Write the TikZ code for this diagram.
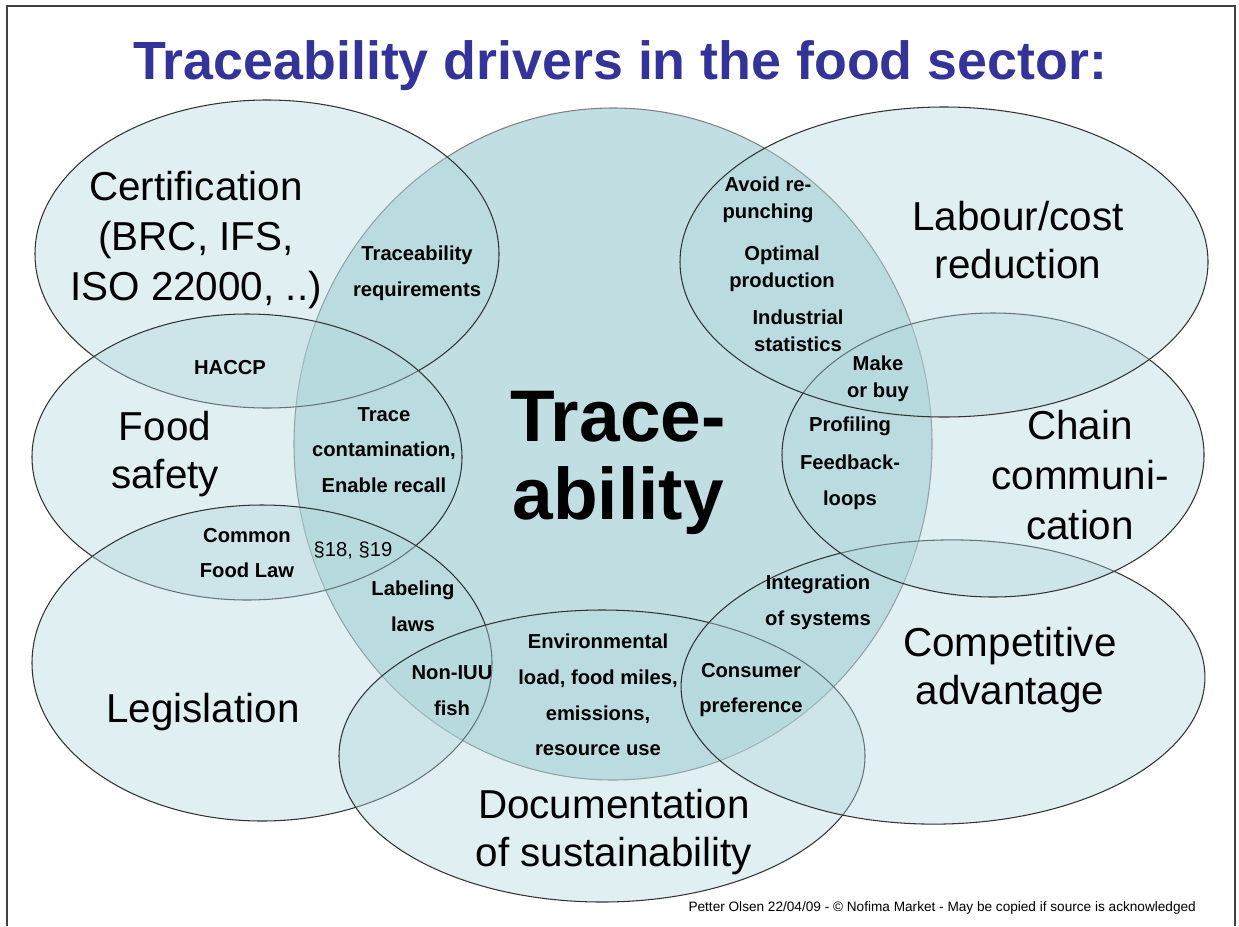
\documentclass[tikz,border=0pt]{standalone}
\usepackage{fontspec}
\setmainfont{Liberation Sans}
\definecolor{ringteal}{RGB}{177,215,220}
\definecolor{titleblue}{RGB}{51,51,153}

\begin{document}
\begin{tikzpicture}[x=0.02cm,y=-0.02cm,
ring/.style={draw=black!80,line width=0.6pt,fill=ringteal,fill opacity=0.4},
hub/.style={draw=black!50,line width=0.6pt,fill=ringteal,fill opacity=0.8},
big/.style={align=center,font=\fontsize{23}{28.3}\selectfont},
small/.style={align=center,font=\bfseries\fontsize{11.5}{20.4}\selectfont},
tight/.style={align=center,font=\bfseries\fontsize{11.5}{15.3}\selectfont}]
\useasboundingbox (0,0) rectangle (1239,926);
\draw[line width=1.1pt,black!75] (7,926) -- (7,6) -- (1235,6) -- (1235,926);

% the traceability circle first, the drivers over it
\draw[hub] (613,444) ellipse [x radius=319,y radius=336];
\draw[ring] (267,254) ellipse [x radius=232,y radius=154];
\draw[ring] (247,457) ellipse [x radius=215,y radius=143];
\draw[ring] (262,663) ellipse [x radius=230,y radius=158];
\draw[ring] (602,756) ellipse [x radius=263,y radius=146];
\draw[ring,rotate around={1.5:(943,682)}] (943,682) ellipse [x radius=262,y radius=142];
\draw[ring] (993,455) ellipse [x radius=211,y radius=142];
\draw[ring] (944,262) ellipse [x radius=264,y radius=155];

\node (title) at (620,66) [font=\bfseries\fontsize{30.6}{36}\selectfont,text=titleblue]
  {Traceability drivers in the food sector:};

% drivers
\node (cert) at (196,240) [big] {Certification\\(BRC, IFS,\\ISO 22000, ..)};
\node (labour) at (1018,240) [big,font=\fontsize{23}{27.2}\selectfont] {Labour/cost\\reduction};
\node (safety) at (165,454) [big,font=\fontsize{23}{27.2}\selectfont] {Food\\safety};
\node (chain) at (1080,475) [big] {Chain\\communi-\\cation};
\node (law) at (203,712) [big] {Legislation};
\node (compet) at (1010,670) [big,font=\fontsize{23}{27.2}\selectfont] {Competitive\\advantage};
\node (sustain) at (614,832) [big,font=\fontsize{23}{27.2}\selectfont] {Documentation\\of sustainability};
\node (hubtext) at (618,463) [align=center,font=\bfseries\fontsize{41.6}{44}\selectfont] {Trace-\\ability};

% overlaps
\node (req) at (417,273) [small] {Traceability\\requirements};
\node (haccp) at (230,368) [small] {HACCP};
\node (recall) at (384,450) [small] {Trace\\contamination,\\Enable recall};
\node (repunch) at (768,200) [tight] {Avoid re-\\punching};
\node (optimal) at (782,269) [tight] {Optimal\\production};
\node (stats) at (798,331) [tight] {Industrial\\statistics};
\node (buy) at (878,379) [tight] {Make\\or buy};
\node (profile) at (850,426) [small] {Profiling};
\node (feedback) at (850,482) [small] {Feedback-\\loops};
\node (foodlaw) at (247,553) [small] {Common\\Food Law};
\node (para) at (353,550) [font=\fontsize{11.5}{14}\selectfont] {§18, §19};
\node (label) at (413,606) [small] {Labeling\\laws};
\node (iuu) at (452,691) [small] {Non-IUU\\fish};
\node (env) at (598,695) [small] {Environmental\\load, food miles,\\emissions,\\resource use};
\node (integ) at (818,602) [small] {Integration\\of systems};
\node (consumer) at (751,690) [small] {Consumer\\preference};

\node (credit) at (1202,911) [anchor=base east,font=\fontsize{7.75}{9}\selectfont]
  {Petter Olsen 22/04/09 - © Nofima Market - May be copied if source is acknowledged};
\end{tikzpicture}
\end{document}
